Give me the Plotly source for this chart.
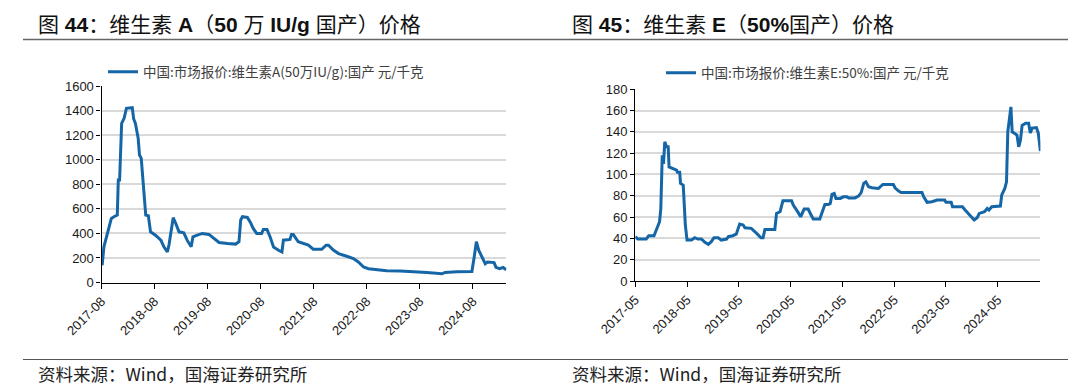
import plotly.graph_objects as go

# ---------------- data: Vitamin A (50万IU/g, domestic), 元/千克 ----------------
va_dates = [
    "2017-08-01", "2017-08-05", "2017-08-17", "2017-09-03", "2017-09-21", "2017-10-07",
    "2017-10-25", "2017-11-17", "2017-11-24", "2017-12-03", "2017-12-17", "2018-01-03",
    "2018-01-19", "2018-02-28", "2018-03-10", "2018-03-22", "2018-04-10", "2018-04-19",
    "2018-05-01", "2018-05-19", "2018-06-01", "2018-06-19", "2018-07-04", "2018-08-07",
    "2018-09-13", "2018-10-04", "2018-10-28", "2018-11-08", "2018-12-07", "2018-12-25",
    "2019-01-16", "2019-02-18", "2019-03-13", "2019-04-10", "2019-04-22", "2019-05-22",
    "2019-06-25", "2019-08-10", "2019-09-13", "2019-10-19", "2019-12-16", "2020-02-10",
    "2020-03-04", "2020-03-16", "2020-03-28", "2020-05-01", "2020-05-22", "2020-06-10",
    "2020-07-04", "2020-08-07", "2020-08-19", "2020-09-13", "2020-10-04", "2020-10-28",
    "2020-12-01", "2020-12-25", "2021-01-04", "2021-02-18", "2021-03-01", "2021-03-13",
    "2021-04-16", "2021-05-22", "2021-06-25", "2021-07-28", "2021-09-25", "2021-10-25",
    "2021-11-10", "2021-12-16", "2022-01-19", "2022-03-16", "2022-05-01", "2022-06-04",
    "2022-07-10", "2022-08-13", "2022-10-10", "2022-12-16", "2023-03-19", "2023-07-10",
    "2023-09-19", "2024-01-01", "2024-01-22", "2024-04-13", "2024-07-25", "2024-08-10",
    "2024-08-25", "2024-09-10", "2024-10-01", "2024-10-25", "2024-11-10", "2024-12-10",
    "2024-12-25", "2025-01-07", "2025-02-01", "2025-02-25", "2025-03-19",
]
va_values = [
    150, 141, 291, 373, 441, 522,
    536, 549, 835, 835, 1297, 1338,
    1420, 1425, 1333, 1297, 1175, 1039,
    1012, 713, 549, 544, 413, 386,
    345, 291, 250, 305, 528, 481,
    413, 405, 345, 291, 373, 386,
    400, 392, 359, 326, 318, 313,
    332, 509, 536, 530, 490, 441,
    400, 400, 433, 433, 373, 290,
    263, 249, 345, 351, 392, 392,
    332, 318, 304, 271, 271, 304,
    304, 263, 236, 214, 195, 167,
    126, 112, 104, 96, 93, 90,
    82, 71, 82, 88, 90, 208,
    332, 263, 208, 153, 167, 162,
    162, 124, 113, 122, 103,
]

# ---------------- data: Vitamin E (50%, domestic), 元/千克 ----------------
ve_dates = [
    "2017-05-01", "2017-05-19", "2017-07-17", "2017-08-04", "2017-09-10", "2017-09-28",
    "2017-10-19", "2017-10-28", "2017-11-07", "2017-11-16", "2017-11-25", "2017-12-07",
    "2017-12-19", "2017-12-25", "2018-01-22", "2018-02-16", "2018-02-22", "2018-03-10",
    "2018-03-16", "2018-04-04", "2018-04-19", "2018-05-01", "2018-06-01", "2018-06-25",
    "2018-07-16", "2018-08-10", "2018-09-04", "2018-09-28", "2018-10-19", "2018-11-07",
    "2018-12-07", "2018-12-28", "2019-02-04", "2019-02-16", "2019-03-19", "2019-04-13",
    "2019-05-07", "2019-06-01", "2019-06-13", "2019-07-28", "2019-09-04", "2019-10-04",
    "2019-10-19", "2019-11-01", "2020-01-10", "2020-01-22", "2020-02-16", "2020-03-07",
    "2020-05-07", "2020-05-19", "2020-06-22", "2020-07-10", "2020-08-04", "2020-09-01",
    "2020-09-22", "2020-10-07", "2020-11-22", "2020-12-10", "2020-12-28", "2021-01-22",
    "2021-02-04", "2021-02-16", "2021-03-04", "2021-03-16", "2021-04-16", "2021-05-07",
    "2021-06-01", "2021-06-13", "2021-07-28", "2021-08-22", "2021-09-10", "2021-09-28",
    "2021-10-13", "2021-11-01", "2021-11-25", "2022-01-10", "2022-02-10", "2022-04-25",
    "2022-05-07", "2022-06-01", "2022-06-19", "2022-11-13", "2022-11-25", "2022-12-19",
    "2023-01-22", "2023-02-28", "2023-04-22", "2023-05-01", "2023-06-07", "2023-06-16",
    "2023-08-25", "2023-09-13", "2023-10-07", "2023-11-01", "2023-11-16", "2023-12-07",
    "2023-12-22", "2024-01-28", "2024-02-16", "2024-02-28", "2024-03-19", "2024-05-19",
    "2024-05-28", "2024-06-19", "2024-07-01", "2024-07-10", "2024-07-22", "2024-08-01",
    "2024-08-10", "2024-08-28", "2024-09-13", "2024-09-25", "2024-10-07", "2024-10-19",
    "2024-11-13", "2024-12-04", "2024-12-16", "2024-12-28", "2025-01-28", "2025-02-10",
    "2025-02-21", "2025-02-25",
]
ve_values = [
    41.6, 39.4, 39.4, 42.5, 42.5, 49.4,
    55.6, 68, 118, 110, 130.6, 126,
    126, 107, 105.6, 104, 102, 102,
    91.6, 90, 52.5, 38.4, 38.4, 40.6,
    39.4, 39.4, 36.3, 34.4, 36.9, 40.6,
    40.6, 38.4, 39.4, 41.6, 42.5, 44,
    53.4, 52.5, 50, 49.4, 44.7, 40.6,
    40.6, 48.4, 48.4, 63.4, 65, 75.3,
    75.3, 71.3, 64.4, 60.3, 67.5, 67.5,
    61.9, 58.1, 58.1, 65.6, 71.9, 71.9,
    72.8, 81.3, 82.2, 77.5, 77.5, 79,
    79, 78, 78, 79.7, 83, 91.6,
    93, 88.4, 87.5, 86.9, 90.6, 90.6,
    87.5, 84.4, 83, 83, 79, 73.8,
    74.4, 75.9, 75.9, 73.8, 73.8, 69.7,
    69.7, 66.6, 63.4, 59.4, 57.2, 59.4,
    63.4, 65, 68.1, 66.6, 69.7, 70.3,
    80.6, 86.9, 93, 140, 155.6, 163.4,
    140, 138.4, 136.9, 126, 132, 146,
    148, 148, 138.8, 143.4, 144, 138.8,
    129, 122,
]

va_ticks = ["2017-08", "2018-08", "2019-08", "2020-08", "2021-08", "2022-08", "2023-08", "2024-08"]
ve_ticks = ["2017-05", "2018-05", "2019-05", "2020-05", "2021-05", "2022-05", "2023-05", "2024-05"]
va_yticks = [0, 200, 400, 600, 800, 1000, 1200, 1400, 1600]
ve_yticks = [0, 20, 40, 60, 80, 100, 120, 140, 160, 180]

va_name = "中国:市场报价:维生素A(50万IU/g):国产 元/千克"
ve_name = "中国:市场报价:维生素E:50%:国产 元/千克"
title_a = "图 <b>44</b>：维生素 <b>A</b>（<b>50</b> 万 <b>IU/g</b> 国产）价格"
title_e = "图 <b>45</b>：维生素 <b>E</b>（<b>50%</b>国产）价格"
source_text = "资料来源：Wind，国海证券研究所"

LINE = "#1566A6"
GRID = "#D9D9D9"
CJK = "Noto Sans CJK SC"
LAT = "Liberation Sans, Arial, " + CJK

fig = go.Figure()
fig.add_trace(go.Scatter(x=va_dates, y=va_values, mode="lines", name=va_name,
                         line=dict(color=LINE, width=3), xaxis="x", yaxis="y",
                         legend="legend"))
fig.add_trace(go.Scatter(x=ve_dates, y=ve_values, mode="lines", name=ve_name,
                         line=dict(color=LINE, width=3), xaxis="x2", yaxis="y2",
                         legend="legend2"))

W, H = 1080, 392

def xdom(a, b):
    return [a / W, b / W]

def ydom(top, bottom):
    return [1 - bottom / H, 1 - top / H]

common_x = dict(type="date", showline=True, linecolor="#000000", linewidth=1.3,
                ticks="outside", ticklen=5, tickcolor="#000000", showgrid=False,
                tickangle=-45, tickfont=dict(family=LAT, size=13, color="#1a1a1a"),
                zeroline=False, automargin=False)
common_y = dict(showline=True, linecolor="#000000", linewidth=1.3, ticks="outside",
                ticklen=4, tickcolor="#000000", showgrid=True, gridcolor=GRID,
                gridwidth=1.6, tickfont=dict(family=LAT, size=13, color="#1a1a1a"),
                zeroline=False, automargin=False)

fig.update_layout(
    width=W, height=H,
    margin=dict(l=0, r=0, t=0, b=0, autoexpand=False),
    paper_bgcolor="white", plot_bgcolor="white",
    showlegend=True,
    xaxis=dict(common_x, domain=xdom(101.6, 506.3), anchor="y",
               range=["2017-08-01", "2025-03-19"],
               tickvals=[t + "-01" for t in va_ticks], ticktext=va_ticks),
    yaxis=dict(common_y, domain=ydom(86.2, 282.5), anchor="x", range=[0, 1600],
               tickvals=va_yticks),
    xaxis2=dict(common_x, domain=xdom(635.3, 1040.4), anchor="y2",
                range=["2017-05-01", "2025-02-25"],
                tickvals=[t + "-01" for t in ve_ticks], ticktext=ve_ticks),
    yaxis2=dict(common_y, domain=ydom(89.2, 281), anchor="x2", range=[0, 180],
                tickvals=ve_yticks),
    legend=dict(x=103 / W, y=1 - 72 / H, xanchor="left", yanchor="middle",
                font=dict(family=CJK, size=13.5, color="#404040"),
                bgcolor="rgba(0,0,0,0)", itemwidth=30, tracegroupgap=0),
    legend2=dict(x=661 / W, y=1 - 73 / H, xanchor="left", yanchor="middle",
                 font=dict(family=CJK, size=13.5, color="#404040"),
                 bgcolor="rgba(0,0,0,0)", itemwidth=30, tracegroupgap=0),
)

# titles, rules and source notes
for x0, x1, title, tx in [(23, 540, title_a, 36), (540, 1068, title_e, 570)]:
    fig.add_shape(type="line", xref="paper", yref="paper", x0=x0 / W, x1=x1 / W,
                  y0=1 - 39.5 / H, y1=1 - 39.5 / H, line=dict(color="#666666", width=1.6))
    fig.add_shape(type="line", xref="paper", yref="paper", x0=x0 / W, x1=x1 / W,
                  y0=1 - 359.5 / H, y1=1 - 359.5 / H, line=dict(color="#555555", width=1.2))
    fig.add_annotation(text=title, xref="paper", yref="paper",
                       x=tx / W, y=1 - 24.5 / H, xanchor="left", yanchor="middle",
                       showarrow=False, font=dict(family=LAT, size=21, color="#111111"))
    fig.add_annotation(text=source_text, xref="paper", yref="paper",
                       x=tx / W, y=1 - 373 / H, xanchor="left", yanchor="middle",
                       showarrow=False, font=dict(family=CJK, size=17.5, color="#222222"))

fig.write_html("out.html", config={"displayModeBar": False},
               post_script="document.body.style.margin='0px';")
